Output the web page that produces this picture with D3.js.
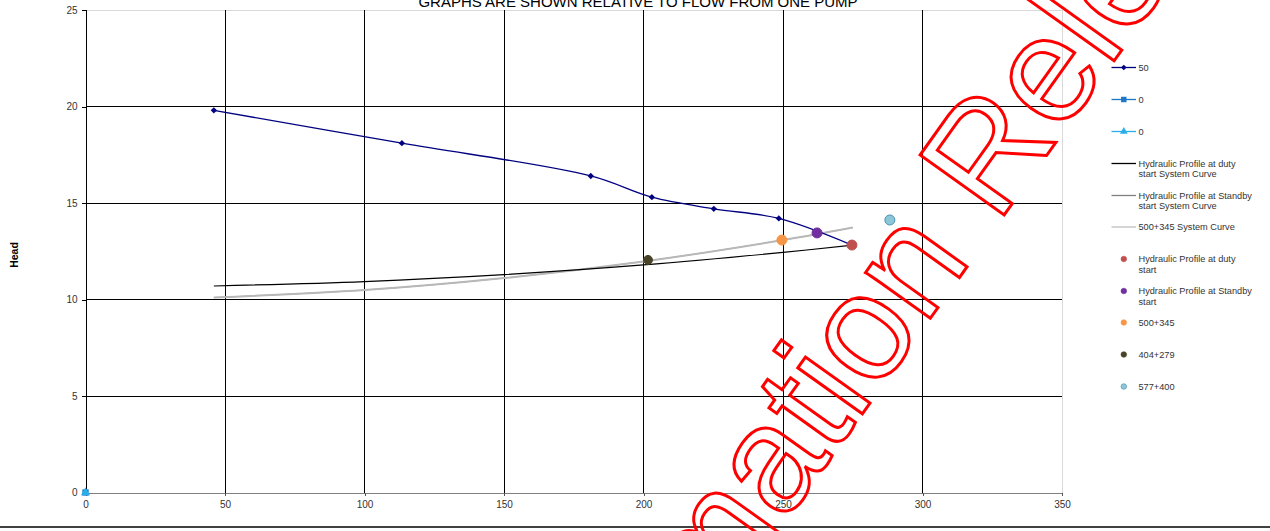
<!DOCTYPE html>
<html>
<head>
<meta charset="utf-8">
<script src="https://cdn.jsdelivr.net/npm/d3@7/dist/d3.min.js"></script>
<style>
  html, body { margin: 0; padding: 0; background: #fff; }
  svg { display: block; }
  text { font-family: "Liberation Sans", Arial, sans-serif; }
</style>
</head>
<body>
<svg id="chart" width="1270" height="531"></svg>
<script>
// ---- Data ----
const chartTitle = "GRAPHS ARE SHOWN RELATIVE TO FLOW FROM ONE PUMP";
const yAxisTitle = "Head";
const xTicks = [0, 50, 100, 150, 200, 250, 300, 350];
const yTicks = [0, 5, 10, 15, 20, 25];

// Pump curve (series "50")
const pumpFlow = [46, 113.4, 181.1, 203.0, 225.2, 248.5, 274.7];
const pumpHead = [19.8, 18.1, 16.4, 15.3, 14.7, 14.2, 12.82];

// Series "0" (square) and "0" (triangle)
const zeroSqFlow = [0];
const zeroSqHead = [0];
const zeroTriFlow = [0];
const zeroTriHead = [0];

// System curves
const dutyCurveFlow = [46, 100, 150, 200, 250, 275];
const dutyCurveHead = [10.70, 10.93, 11.29, 11.79, 12.44, 12.82];
const standbyCurveFlow = [46, 100, 150, 200, 250, 275];
const standbyCurveHead = [10.10, 10.49, 11.11, 11.97, 13.08, 13.73];
const sys500CurveFlow = [46, 100, 150, 200, 250, 275];
const sys500CurveHead = [10.10, 10.49, 11.11, 11.97, 13.08, 13.73];

// Operating points
const pointLabels = ["Hydraulic Profile at duty start", "Hydraulic Profile at Standby start", "500+345", "404+279", "577+400"];
const pointFlow = [274.7, 262.2, 249.6, 201.6, 288.3];
const pointHead = [12.82, 13.45, 13.08, 12.05, 14.12];
const pointFill = ["#C0504D", "#7030A0", "#F79646", "#494429", "#8CC6D8"];
const pointStroke = ["#C0504D", "#7030A0", "#F79646", "#494429", "#4A91AD"];

// Legend entries
const legendLabels = [
  ["50"], ["0"], ["0"],
  ["Hydraulic Profile at duty", "start System Curve"],
  ["Hydraulic Profile at Standby", "start System Curve"],
  ["500+345 System Curve"],
  ["Hydraulic Profile at duty", "start"],
  ["Hydraulic Profile at Standby", "start"],
  ["500+345"], ["404+279"], ["577+400"]
];

const watermarkLead = "Information";
const watermarkTail = "Release";

// ---- Layout ----
const svg = d3.select("#chart");
const plotL = 85.5, plotR = 1062, plotT = 10, plotB = 492.5;

const x = d3.scaleLinear().domain([0, 350]).range([plotL, plotR]);
const y = d3.scaleLinear().domain([0, 25]).range([plotB, plotT]);

// plot border (light)
svg.append("line").attr("x1", plotL).attr("x2", plotR).attr("y1", plotT).attr("y2", plotT)
  .attr("stroke", "#d9d9d9").attr("stroke-width", 1).attr("shape-rendering", "crispEdges");
svg.append("line").attr("x1", plotR).attr("x2", plotR).attr("y1", plotT).attr("y2", plotB)
  .attr("stroke", "#d9d9d9").attr("stroke-width", 1).attr("shape-rendering", "crispEdges");

// gridlines
const grid = svg.append("g").attr("shape-rendering", "crispEdges");
grid.selectAll("line.vg").data(xTicks.filter(d => d > 0 && d < 350)).join("line")
  .attr("class", "vg")
  .attr("x1", d => x(d)).attr("x2", d => x(d))
  .attr("y1", plotT).attr("y2", plotB)
  .attr("stroke", "#000").attr("stroke-width", 1);
grid.selectAll("line.hg").data(yTicks.filter(d => d > 0 && d < 25)).join("line")
  .attr("class", "hg")
  .attr("x1", plotL).attr("x2", plotR)
  .attr("y1", d => y(d)).attr("y2", d => y(d))
  .attr("stroke", "#000").attr("stroke-width", 1);

// axes
const yAxis = d3.axisLeft(y).tickValues(yTicks).tickSize(4).tickPadding(4).tickFormat(d3.format("d"));
const gy = svg.append("g").attr("transform", `translate(${plotL},0)`).call(yAxis);
gy.select(".domain").attr("stroke", "#000").attr("shape-rendering", "crispEdges");
gy.selectAll(".tick line").attr("stroke", "#000").attr("shape-rendering", "crispEdges");
gy.selectAll(".tick text").attr("fill", "#333").style("font-size", "10px")
  .style("font-family", "'Liberation Sans', Arial, sans-serif");

const xAxis = d3.axisBottom(x).tickValues(xTicks).tickSize(3).tickPadding(5).tickFormat(d3.format("d"));
const gx = svg.append("g").attr("transform", `translate(0,${plotB})`).call(xAxis);
gx.select(".domain").attr("stroke", "#808080").attr("shape-rendering", "crispEdges");
gx.selectAll(".tick line").attr("stroke", "#555").attr("shape-rendering", "crispEdges");
gx.selectAll(".tick text").attr("fill", "#333").style("font-size", "10px")
  .style("font-family", "'Liberation Sans', Arial, sans-serif");

// title (runs off the top edge)
svg.append("text").attr("x", 638).attr("y", 6.5).attr("text-anchor", "middle")
  .style("font-size", "15px").attr("fill", "#000").text(chartTitle);

// y-axis title
svg.append("text").attr("transform", "translate(17.5,255) rotate(-90)")
  .attr("text-anchor", "middle").style("font-size", "10.5px").style("font-weight", "bold")
  .attr("fill", "#000").text(yAxisTitle);

// ---- Series ----
const smoothGen = d3.line().x(d => x(d[0])).y(d => y(d[1])).curve(d3.curveCatmullRom.alpha(0.5));
const zip = (a, b) => a.map((v, i) => [v, b[i]]);

// system curves
svg.append("path").datum(zip(standbyCurveFlow, standbyCurveHead))
  .attr("d", smoothGen).attr("fill", "none").attr("stroke", "#808080").attr("stroke-width", 1);
svg.append("path").datum(zip(sys500CurveFlow, sys500CurveHead))
  .attr("d", smoothGen).attr("fill", "none").attr("stroke", "#B8B8B8").attr("stroke-width", 2);
svg.append("path").datum(zip(dutyCurveFlow, dutyCurveHead))
  .attr("d", smoothGen).attr("fill", "none").attr("stroke", "#000").attr("stroke-width", 1.2);

// pump curve with square-diamond markers
const pumpData = zip(pumpFlow, pumpHead);
svg.append("path").datum(pumpData)
  .attr("d", smoothGen).attr("fill", "none").attr("stroke", "#000080").attr("stroke-width", 1.3);
const diamond = d3.symbol().type(d3.symbolSquare).size(20);
svg.selectAll("path.pm").data(pumpData).join("path").attr("class", "pm")
  .attr("transform", d => `translate(${x(d[0])},${y(d[1])}) rotate(45)`)
  .attr("d", diamond).attr("fill", "#000080");

// zero series
const square = d3.symbol().type(d3.symbolSquare).size(40);
const triangle = d3.symbol().type(d3.symbolTriangle).size(36);
svg.selectAll("path.sq").data(zip(zeroSqFlow, zeroSqHead)).join("path").attr("class", "sq")
  .attr("transform", d => `translate(${x(d[0])},${y(d[1])})`)
  .attr("d", square).attr("fill", "#1F77C8");
svg.selectAll("path.tr").data(zip(zeroTriFlow, zeroTriHead)).join("path").attr("class", "tr")
  .attr("transform", d => `translate(${x(d[0])},${y(d[1])})`)
  .attr("d", triangle).attr("fill", "#29AEEA");

// operating points
svg.selectAll("circle.op").data(pointLabels).join("circle").attr("class", "op")
  .attr("cx", (d, i) => x(pointFlow[i])).attr("cy", (d, i) => y(pointHead[i]))
  .attr("r", (d, i) => i === 3 ? 4.5 : 5)
  .attr("fill", (d, i) => pointFill[i]).attr("stroke", (d, i) => pointStroke[i]).attr("stroke-width", 1);

// ---- Legend ----
const legendY = [67.5, 99.5, 131.5, 163.5, 195.5, 227, 259, 291, 322.5, 354.5, 386.5];
const lg = svg.append("g");
const lx1 = 1111.5, lx2 = 1136, lcx = 1123.8, ltx = 1138.5;
const lineStyles = [
  { c: "#000080", w: 1.3 }, { c: "#1F77C8", w: 1.3 }, { c: "#29AEEA", w: 1.3 },
  { c: "#000", w: 1.3 }, { c: "#808080", w: 1.3 }, { c: "#BFBFBF", w: 1.3 }
];
legendLabels.forEach((lines, i) => {
  const cy = legendY[i];
  if (i < 6) {
    lg.append("line").attr("x1", lx1).attr("x2", lx2).attr("y1", cy).attr("y2", cy)
      .attr("stroke", lineStyles[i].c).attr("stroke-width", lineStyles[i].w);
    if (i === 0) lg.append("path").attr("transform", `translate(${lcx},${cy}) rotate(45)`).attr("d", d3.symbol().type(d3.symbolSquare).size(16)).attr("fill", "#000080");
    if (i === 1) lg.append("path").attr("transform", `translate(${lcx},${cy})`).attr("d", d3.symbol().type(d3.symbolSquare).size(30)).attr("fill", "#1F77C8");
    if (i === 2) lg.append("path").attr("transform", `translate(${lcx},${cy})`).attr("d", d3.symbol().type(d3.symbolTriangle).size(26)).attr("fill", "#29AEEA");
  } else {
    const k = i - 6;
    lg.append("circle").attr("cx", lcx).attr("cy", cy).attr("r", 2.8)
      .attr("fill", pointFill[k]).attr("stroke", pointStroke[k]).attr("stroke-width", 0.6);
  }
  const t = lg.append("text").attr("x", ltx).attr("y", cy + 3.2)
    .style("font-size", "9.2px").attr("fill", "#333");
  lines.forEach((s, j) => {
    t.append("tspan").attr("x", ltx).attr("dy", j === 0 ? 0 : 10.7).text(s);
  });
});

// bottom rule
svg.append("line").attr("x1", 0).attr("x2", 1270).attr("y1", 527).attr("y2", 527)
  .attr("stroke", "#000").attr("stroke-width", 1.5);

// ---- Watermark (outlined, diagonal) ----
const wmSize = 150;
const wm = svg.append("g").attr("transform", "translate(997,225) rotate(-54.5)")
  .style("font-size", wmSize + "px").attr("fill", "none").attr("stroke", "#FF0000").attr("stroke-width", 3)
  .attr("stroke-linejoin", "miter");
wm.append("text").attr("x", -0.278 * wmSize).attr("y", 0).attr("text-anchor", "end").text(watermarkLead);
wm.append("text").attr("x", 0).attr("y", 0).attr("text-anchor", "start").text(watermarkTail);
</script>
</body>
</html>
